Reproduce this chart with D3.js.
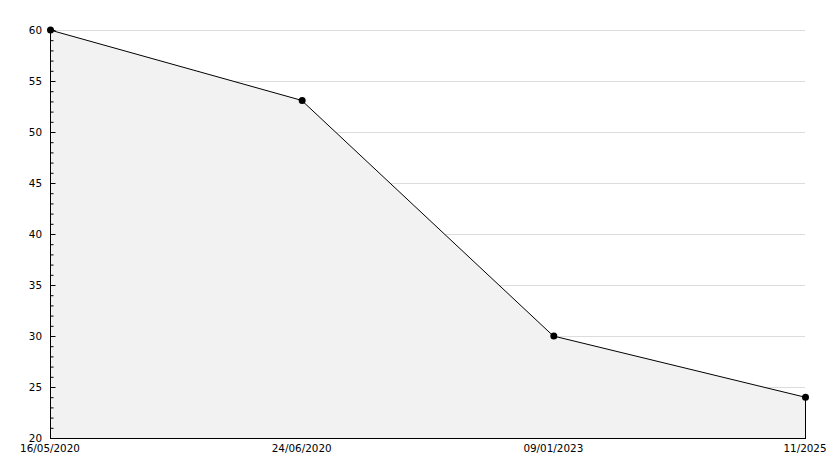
<!DOCTYPE html>
<html>
<head>
<meta charset="utf-8">
<script src="https://cdn.jsdelivr.net/npm/d3@7"></script>
<style>
  body { margin: 0; background: #fff; }
  text { font-family: "DejaVu Sans", Verdana, sans-serif; font-size: 10.4px; fill: #000; }
</style>
</head>
<body>
<div id="chart"></div>
<script>
var dates = ['16/05/2020', '24/06/2020', '09/01/2023', '11/2025']
var values = [60, 53.1, 30, 24]
var yTicks = [20, 25, 30, 35, 40, 45, 50, 55, 60]

var margin = {top: 30, right: 29, bottom: 30, left: 50}
var width = 834 - margin.left - margin.right
var height = 468 - margin.top - margin.bottom

var data = dates.map(function(d, i) { return {date: d, value: values[i]} })

var x = d3.scalePoint().domain(dates).range([0, width])
var y = d3.scaleLinear().domain([20, 60]).range([height, 0])

var svg = d3.select('#chart')
  .append('svg')
  .attr('width', 834)
  .attr('height', 468)
  .append('g')
  .attr('transform', 'translate(' + margin.left + ',' + margin.top + ')')

// grid lines
svg.append('g')
  .selectAll('line')
  .data(yTicks.filter(function(d) { return d > 20 }))
  .enter().append('line')
  .attr('x1', 0)
  .attr('x2', width)
  .attr('y1', function(d) { return Math.round(y(d)) + 0.5 })
  .attr('y2', function(d) { return Math.round(y(d)) + 0.5 })
  .attr('stroke', '#dcdcdc')

// area
var area = d3.area()
  .x(function(d) { return x(d.date) })
  .y0(height)
  .y1(function(d) { return y(d.value) })

svg.append('path')
  .datum(data)
  .attr('d', area)
  .attr('fill', '#f2f2f2')

var line = d3.line()
  .x(function(d) { return x(d.date) })
  .y(function(d) { return y(d.value) })

svg.append('path')
  .datum(data)
  .attr('d', line)
  .attr('fill', 'none')
  .attr('stroke', '#000')
  .attr('stroke-width', 1)

// right edge drop
var last = data[data.length - 1]
svg.append('line')
  .attr('x1', x(last.date) + 0.5)
  .attr('x2', x(last.date) + 0.5)
  .attr('y1', y(last.value))
  .attr('y2', height)
  .attr('stroke', '#000')

// y axis, ticks pointing inward
var yAxis = d3.axisRight(y).tickValues(yTicks).tickSize(5).tickFormat('')
svg.append('g')
  .attr('class', 'axis axis-y')
  .attr('transform', 'translate(0.5,0)')
  .call(yAxis)
  .call(function(g) { g.select('.domain').remove() })

var yMinor = d3.axisRight(y).tickValues(d3.range(20, 61, 1).filter(function(d) { return d % 5 })).tickSize(3).tickFormat('')
svg.append('g')
  .attr('transform', 'translate(0.5,0)')
  .call(yMinor)
  .call(function(g) { g.select('.domain').remove() })

svg.selectAll('.tick line').attr('stroke', '#000')

svg.append('g')
  .selectAll('text')
  .data(yTicks)
  .enter().append('text')
  .attr('x', -8)
  .attr('y', function(d) { return y(d) })
  .attr('dy', '0.35em')
  .attr('text-anchor', 'end')
  .text(function(d) { return d })

svg.append('line')
  .attr('x1', 0.5).attr('x2', 0.5)
  .attr('y1', 0).attr('y2', height)
  .attr('stroke', '#000')

// x axis
svg.append('line')
  .attr('x1', 0).attr('x2', width + 1)
  .attr('y1', height + 0.5).attr('y2', height + 0.5)
  .attr('stroke', '#000')

svg.append('g')
  .selectAll('text')
  .data(dates)
  .enter().append('text')
  .attr('x', function(d) { return x(d) })
  .attr('y', height + 14)
  .attr('text-anchor', 'middle')
  .text(function(d) { return d })

// markers
svg.append('g')
  .selectAll('circle')
  .data(data)
  .enter().append('circle')
  .attr('cx', function(d) { return x(d.date) + 0.5 })
  .attr('cy', function(d) { return y(d.value) })
  .attr('r', 3.5)
  .attr('fill', '#000')
</script>
</body>
</html>
